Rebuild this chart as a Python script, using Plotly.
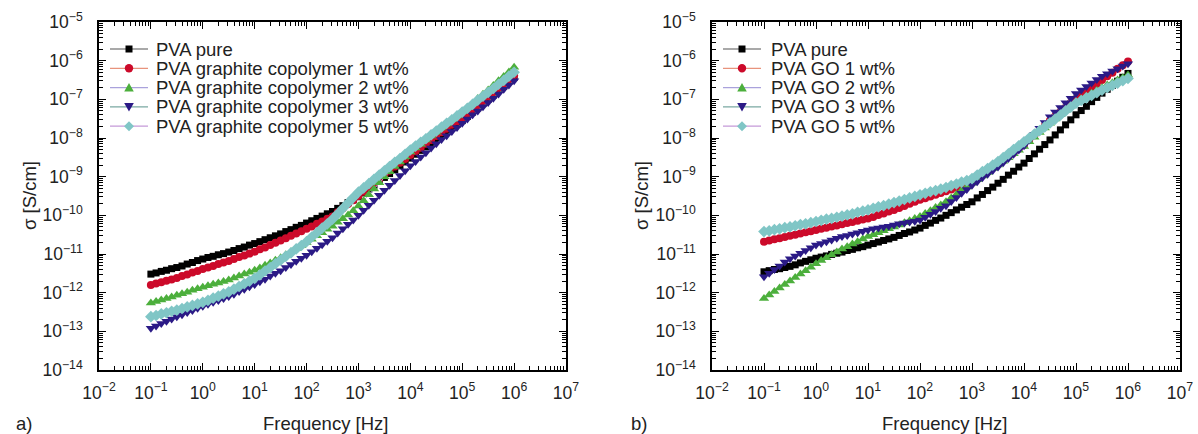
import plotly.graph_objects as go

# log10 of frequency [Hz]
LOG_F = [-1.0, -0.9, -0.8, -0.7, -0.6, -0.5, -0.4, -0.3, -0.2, -0.1,
         0.0, 0.1, 0.2, 0.3, 0.4, 0.5, 0.6, 0.7, 0.8, 0.9,
         1.0, 1.1, 1.2, 1.3, 1.4, 1.5, 1.6, 1.7, 1.8, 1.9,
         2.0, 2.1, 2.2, 2.3, 2.4, 2.5, 2.6, 2.7, 2.8, 2.9,
         3.0, 3.1, 3.2, 3.3, 3.4, 3.5, 3.6, 3.7, 3.8, 3.9,
         4.0, 4.1, 4.2, 4.3, 4.4, 4.5, 4.6, 4.7, 4.8, 4.9,
         5.0, 5.1, 5.2, 5.3, 5.4, 5.5, 5.6, 5.7, 5.8, 5.9,
         6.0]

# log10 of conductivity [S/cm], panel a)
A_PURE = [-11.52, -11.49, -11.45, -11.42, -11.38, -11.35, -11.31, -11.26, -11.22, -11.17,
          -11.13, -11.09, -11.06, -11.02, -10.99, -10.95, -10.91, -10.86, -10.82, -10.77,
          -10.73, -10.68, -10.63, -10.58, -10.53, -10.48, -10.42, -10.37, -10.31, -10.26,
          -10.20, -10.14, -10.08, -10.02, -9.96, -9.90, -9.82, -9.75, -9.67, -9.60,
          -9.52, -9.42, -9.32, -9.22, -9.12, -9.02, -8.92, -8.82, -8.72, -8.62,
          -8.52, -8.42, -8.32, -8.23, -8.13, -8.03, -7.93, -7.84, -7.74, -7.65,
          -7.55, -7.44, -7.33, -7.22, -7.11, -7.00, -6.89, -6.77, -6.66, -6.54,
          -6.43]
A_1 = [-11.80, -11.76, -11.73, -11.69, -11.66, -11.62, -11.57, -11.53, -11.48, -11.44,
       -11.39, -11.35, -11.31, -11.26, -11.22, -11.18, -11.13, -11.08, -11.04, -10.99,
       -10.94, -10.88, -10.83, -10.77, -10.71, -10.65, -10.59, -10.53, -10.47, -10.41,
       -10.35, -10.29, -10.22, -10.16, -10.09, -10.03, -9.92, -9.82, -9.71, -9.61,
       -9.50, -9.39, -9.28, -9.17, -9.06, -8.95, -8.85, -8.74, -8.64, -8.54,
       -8.44, -8.34, -8.25, -8.15, -8.05, -7.95, -7.85, -7.76, -7.66, -7.57,
       -7.47, -7.36, -7.25, -7.15, -7.04, -6.93, -6.82, -6.71, -6.60, -6.49,
       -6.38]
A_2 = [-12.27, -12.23, -12.19, -12.15, -12.11, -12.07, -12.03, -11.99, -11.94, -11.90,
       -11.86, -11.82, -11.78, -11.75, -11.71, -11.67, -11.62, -11.57, -11.52, -11.47,
       -11.42, -11.36, -11.29, -11.23, -11.16, -11.10, -11.02, -10.94, -10.86, -10.78,
       -10.70, -10.62, -10.53, -10.45, -10.36, -10.28, -10.18, -10.09, -9.99, -9.88,
       -9.76, -9.62, -9.47, -9.32, -9.16, -9.00, -8.87, -8.74, -8.62, -8.49,
       -8.36, -8.26, -8.16, -8.05, -7.95, -7.85, -7.74, -7.64, -7.53, -7.43,
       -7.32, -7.21, -7.10, -6.98, -6.87, -6.76, -6.64, -6.52, -6.41, -6.29,
       -6.17]
A_3 = [-12.92, -12.86, -12.80, -12.74, -12.68, -12.62, -12.57, -12.51, -12.46, -12.40,
       -12.35, -12.30, -12.25, -12.20, -12.15, -12.10, -12.04, -11.97, -11.91, -11.85,
       -11.79, -11.72, -11.65, -11.57, -11.50, -11.43, -11.35, -11.27, -11.19, -11.11,
       -11.03, -10.94, -10.85, -10.76, -10.67, -10.58, -10.46, -10.35, -10.23, -10.12,
       -10.00, -9.87, -9.74, -9.61, -9.48, -9.35, -9.22, -9.10, -8.97, -8.85,
       -8.72, -8.61, -8.49, -8.38, -8.26, -8.15, -8.04, -7.94, -7.83, -7.73,
       -7.62, -7.51, -7.40, -7.30, -7.19, -7.08, -6.97, -6.86, -6.74, -6.63,
       -6.52]
A_5 = [-12.62, -12.59, -12.55, -12.52, -12.48, -12.45, -12.41, -12.37, -12.33, -12.29,
       -12.25, -12.20, -12.14, -12.09, -12.03, -11.98, -11.91, -11.84, -11.77, -11.70,
       -11.63, -11.54, -11.44, -11.35, -11.25, -11.16, -11.06, -10.97, -10.87, -10.78,
       -10.68, -10.56, -10.45, -10.33, -10.22, -10.10, -9.96, -9.82, -9.68, -9.54,
       -9.40, -9.29, -9.18, -9.07, -8.96, -8.85, -8.74, -8.63, -8.53, -8.42,
       -8.31, -8.21, -8.11, -8.02, -7.92, -7.82, -7.72, -7.62, -7.53, -7.43,
       -7.33, -7.23, -7.13, -7.02, -6.92, -6.82, -6.72, -6.61, -6.51, -6.40,
       -6.30]

# log10 of conductivity [S/cm], panel b)
B_PURE = [-11.46, -11.43, -11.40, -11.38, -11.35, -11.32, -11.28, -11.23, -11.19, -11.15,
          -11.11, -11.08, -11.05, -11.01, -10.98, -10.95, -10.91, -10.88, -10.84, -10.81,
          -10.77, -10.73, -10.69, -10.65, -10.61, -10.57, -10.52, -10.47, -10.43, -10.38,
          -10.33, -10.26, -10.20, -10.13, -10.07, -10.00, -9.93, -9.86, -9.79, -9.72,
          -9.65, -9.55, -9.46, -9.36, -9.27, -9.17, -9.07, -8.96, -8.86, -8.75,
          -8.65, -8.53, -8.41, -8.29, -8.17, -8.05, -7.92, -7.79, -7.66, -7.53,
          -7.40, -7.29, -7.18, -7.06, -6.95, -6.84, -6.74, -6.64, -6.53, -6.43,
          -6.33]
B_1 = [-10.68, -10.65, -10.62, -10.59, -10.56, -10.53, -10.50, -10.47, -10.44, -10.41,
       -10.38, -10.35, -10.32, -10.29, -10.26, -10.23, -10.20, -10.17, -10.14, -10.11,
       -10.08, -10.04, -9.99, -9.95, -9.90, -9.86, -9.81, -9.76, -9.70, -9.65,
       -9.60, -9.56, -9.51, -9.47, -9.42, -9.38, -9.33, -9.28, -9.23, -9.18,
       -9.13, -9.04, -8.95, -8.86, -8.77, -8.68, -8.58, -8.48, -8.38, -8.28,
       -8.18, -8.05, -7.93, -7.80, -7.68, -7.55, -7.44, -7.32, -7.21, -7.09,
       -6.98, -6.88, -6.79, -6.69, -6.60, -6.50, -6.40, -6.31, -6.21, -6.12,
       -6.02]
B_2 = [-12.15, -12.06, -11.97, -11.88, -11.79, -11.70, -11.61, -11.52, -11.43, -11.34,
       -11.25, -11.17, -11.10, -11.02, -10.95, -10.87, -10.81, -10.74, -10.68, -10.61,
       -10.55, -10.50, -10.45, -10.40, -10.35, -10.30, -10.25, -10.19, -10.14, -10.08,
       -10.03, -9.95, -9.88, -9.80, -9.73, -9.65, -9.55, -9.46, -9.36, -9.27,
       -9.17, -9.08, -8.98, -8.89, -8.79, -8.70, -8.60, -8.51, -8.41, -8.32,
       -8.22, -8.10, -7.98, -7.86, -7.74, -7.62, -7.51, -7.40, -7.28, -7.17,
       -7.06, -6.99, -6.92, -6.84, -6.77, -6.70, -6.63, -6.57, -6.50, -6.44,
       -6.37]
B_3 = [-11.59, -11.50, -11.40, -11.31, -11.21, -11.12, -11.05, -10.98, -10.91, -10.84,
       -10.77, -10.73, -10.68, -10.64, -10.59, -10.55, -10.52, -10.48, -10.45, -10.41,
       -10.38, -10.35, -10.33, -10.30, -10.28, -10.25, -10.22, -10.20, -10.17, -10.15,
       -10.12, -10.05, -9.97, -9.90, -9.82, -9.75, -9.64, -9.54, -9.43, -9.33,
       -9.22, -9.13, -9.03, -8.94, -8.84, -8.75, -8.64, -8.53, -8.42, -8.31,
       -8.20, -8.05, -7.90, -7.75, -7.60, -7.45, -7.33, -7.21, -7.09, -6.97,
       -6.85, -6.76, -6.67, -6.58, -6.49, -6.40, -6.34, -6.27, -6.21, -6.14,
       -6.08]
B_5 = [-10.42, -10.40, -10.37, -10.35, -10.32, -10.30, -10.27, -10.24, -10.22, -10.19,
       -10.16, -10.13, -10.10, -10.08, -10.05, -10.02, -9.99, -9.96, -9.92, -9.89,
       -9.86, -9.82, -9.78, -9.75, -9.71, -9.67, -9.63, -9.59, -9.55, -9.51,
       -9.47, -9.43, -9.39, -9.36, -9.32, -9.28, -9.23, -9.19, -9.14, -9.10,
       -9.05, -8.96, -8.87, -8.79, -8.70, -8.61, -8.51, -8.41, -8.30, -8.20,
       -8.10, -8.00, -7.90, -7.81, -7.71, -7.61, -7.51, -7.41, -7.30, -7.20,
       -7.10, -7.03, -6.96, -6.90, -6.83, -6.76, -6.70, -6.64, -6.58, -6.52,
       -6.46]

NAMES_A = ["PVA pure", "PVA graphite copolymer 1 wt%", "PVA graphite copolymer 2 wt%",
           "PVA graphite copolymer 3 wt%", "PVA graphite copolymer 5 wt%"]
NAMES_B = ["PVA pure", "PVA GO 1 wt%", "PVA GO 2 wt%", "PVA GO 3 wt%", "PVA GO 5 wt%"]

X_TICK_EXP = [-2, -1, 0, 1, 2, 3, 4, 5, 6, 7]
Y_TICK_EXP = [-14, -13, -12, -11, -10, -9, -8, -7, -6, -5]

MARKER_COLORS = ["#000000", "#cc0a2a", "#4caf3c", "#2b1a86", "#80c6c6"]
LINE_COLORS = ["#555555", "#e8937c", "#aaa2dc", "#7aa8a2", "#c59ad8"]
SYMBOLS = ["square", "circle", "triangle-up", "triangle-down", "diamond"]
SIZES = [7, 8, 9, 9, 9]

FONT = "Liberation Sans, Arial, sans-serif"
TXT = "#222222"

W, H = 1198, 434
freq = [10 ** v for v in LOG_F]

fig = go.Figure()

panels = [([A_PURE, A_1, A_2, A_3, A_5], NAMES_A, "x", "y"),
          ([B_PURE, B_1, B_2, B_3, B_5], NAMES_B, "x2", "y2")]
for series, names, xr, yr in panels:
    for i, (vals, name) in enumerate(zip(series, names)):
        fig.add_trace(go.Scatter(
            x=freq, y=[10 ** v for v in vals], name=name,
            mode="lines+markers", showlegend=False,
            line=dict(color=LINE_COLORS[i], width=1),
            marker=dict(symbol=SYMBOLS[i], size=SIZES[i], color=MARKER_COLORS[i],
                        line=dict(width=0)),
            xaxis=xr, yaxis=yr,
        ))


def sup(e):
    return "10<sup>" + str(e).replace("-", "\u2212") + "</sup>"


minor_x = [m * 10 ** e for e in range(-2, 7) for m in range(2, 10)]
minor_y = [m * 10.0 ** e for e in range(-14, -5) for m in range(2, 10)]


def axis(kind, domain, anchor):
    if kind == "x":
        rng, exps, minor, standoff = [-2, 7], X_TICK_EXP, minor_x, 6
    else:
        rng, exps, minor, standoff = [-14, -5], Y_TICK_EXP, minor_y, 11
    return dict(type="log", range=rng, domain=domain, anchor=anchor,
                showline=True, linecolor="black", linewidth=1.5, mirror="ticks",
                ticks="inside", ticklen=7, tickwidth=1.3, tickcolor="black",
                tickmode="array", tickvals=[10.0 ** e for e in exps],
                ticktext=[sup(e) for e in exps],
                minor=dict(tickmode="array", tickvals=minor, ticks="inside",
                           ticklen=4, tickwidth=1, tickcolor="black", showgrid=False),
                showgrid=False, zeroline=False, automargin=False,
                tickfont=dict(family=FONT, size=17.5, color=TXT),
                ticklabelstandoff=standoff)


xa = [99 / W, 566 / W]
xb = [712 / W, 1180 / W]
yd = [1 - 370 / H, 1 - 22 / H]


def px(x):
    return x / W


def py(y):
    return 1 - y / H


# hand-drawn legends (line - marker - line, then label)
shapes = []
annotations = []
ROWS = [49, 68.3, 87.6, 106.9, 126.2]
for names, x_line0, x_line1, x_text in [(NAMES_A, 110, 148, 154), (NAMES_B, 723, 761, 769)]:
    cx = (x_line0 + x_line1) / 2
    for i, (name, cy) in enumerate(zip(names, ROWS)):
        shapes.append(dict(type="line", xref="paper", yref="paper",
                           x0=px(x_line0), x1=px(x_line1), y0=py(cy), y1=py(cy),
                           line=dict(color=LINE_COLORS[i], width=1.2)))
        c = MARKER_COLORS[i]
        if SYMBOLS[i] == "square":
            shapes.append(dict(type="rect", xref="paper", yref="paper",
                               x0=px(cx - 3.5), x1=px(cx + 3.5), y0=py(cy + 3.5), y1=py(cy - 3.5),
                               fillcolor=c, line=dict(width=0)))
        elif SYMBOLS[i] == "circle":
            shapes.append(dict(type="circle", xref="paper", yref="paper",
                               x0=px(cx - 4.2), x1=px(cx + 4.2), y0=py(cy + 4.2), y1=py(cy - 4.2),
                               fillcolor=c, line=dict(width=0)))
        else:
            if SYMBOLS[i] == "triangle-up":
                pts = [(cx - 4.8, cy + 4), (cx + 4.8, cy + 4), (cx, cy - 4.5)]
            elif SYMBOLS[i] == "triangle-down":
                pts = [(cx - 4.8, cy - 4), (cx + 4.8, cy - 4), (cx, cy + 4.5)]
            else:
                pts = [(cx - 5, cy), (cx, cy - 5), (cx + 5, cy), (cx, cy + 5)]
            path = "M " + " L ".join(f"{px(a):.5f},{py(b):.5f}" for a, b in pts) + " Z"
            shapes.append(dict(type="path", xref="paper", yref="paper", path=path,
                               fillcolor=c, line=dict(width=0)))
        annotations.append(dict(text=name, x=px(x_text), y=py(cy), xref="paper", yref="paper",
                                xanchor="left", yanchor="middle", showarrow=False,
                                font=dict(family=FONT, size=18.5, color=TXT)))

for text, x, y, angle in [("\u03c3 [S/cm]", 29, 196, -90), ("\u03c3 [S/cm]", 641, 196, -90),
                          ("Frequency [Hz]", 325, 423, 0), ("Frequency [Hz]", 944, 423, 0),
                          ("a)", 24, 423, 0), ("b)", 639, 423, 0)]:
    annotations.append(dict(text=text, x=px(x), y=py(y), xref="paper", yref="paper",
                            xanchor="center", yanchor="middle",
                            textangle=angle, showarrow=False,
                            font=dict(family=FONT, size=18.5, color=TXT)))

fig.update_layout(
    width=W, height=H,
    margin=dict(l=0, r=0, t=0, b=0, autoexpand=False),
    paper_bgcolor="white", plot_bgcolor="white",
    showlegend=False,
    xaxis=axis("x", xa, "y"), yaxis=axis("y", yd, "x"),
    xaxis2=axis("x", xb, "y2"), yaxis2=axis("y", yd, "x2"),
    font=dict(family=FONT, color=TXT),
    shapes=shapes,
    annotations=annotations,
)

fig.write_html("out.html",
               config={"displayModeBar": False},
               post_script="document.body.style.margin='0';document.body.style.overflow='hidden';")
